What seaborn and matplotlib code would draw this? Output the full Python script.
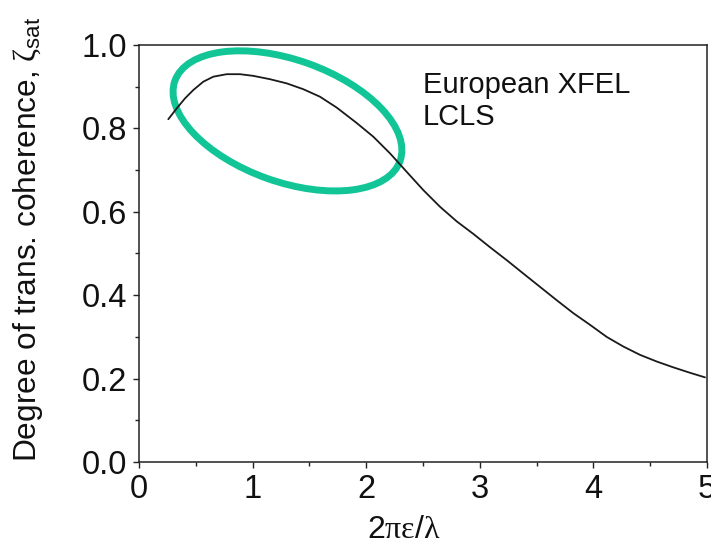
import matplotlib
matplotlib.use("Agg")
import matplotlib.pyplot as plt
import matplotlib.transforms as mtransforms
from matplotlib.patches import Ellipse
from matplotlib.ticker import MultipleLocator, FormatStrFormatter
import seaborn as sns

# Degree of transverse coherence at saturation vs. normalized emittance
emittance = [0.258, 0.332, 0.405, 0.478, 0.566, 0.654, 0.772, 0.889, 1.006, 1.153,
             1.300, 1.446, 1.593, 1.740, 1.916, 2.063, 2.210, 2.356, 2.503, 2.650,
             2.797, 2.943, 3.090, 3.237, 3.383, 3.530, 3.677, 3.823, 3.970, 4.117,
             4.263, 4.410, 4.557, 4.703, 4.850, 4.982]
coherence = [0.822, 0.848, 0.872, 0.892, 0.912, 0.924, 0.930, 0.930, 0.926, 0.918,
             0.908, 0.894, 0.876, 0.850, 0.813, 0.780, 0.740, 0.696, 0.652, 0.612,
             0.577, 0.547, 0.515, 0.484, 0.452, 0.420, 0.388, 0.357, 0.329, 0.300,
             0.277, 0.257, 0.241, 0.227, 0.214, 0.203]

x_ticks = [0, 1, 2, 3, 4, 5]
y_ticks = [0.0, 0.2, 0.4, 0.6, 0.8, 1.0]
facility_labels = ["European XFEL", "LCLS"]

sns.set_style("ticks")
plt.rcParams["font.family"] = ["Liberation Sans", "DejaVu Sans"]
plt.rcParams["mathtext.fontset"] = "custom"
plt.rcParams["mathtext.rm"] = "Liberation Sans"
plt.rcParams["mathtext.it"] = "Liberation Serif"
plt.rcParams["mathtext.sf"] = "Liberation Sans"

fig = plt.figure(figsize=(7.11, 5.46), dpi=100)
ax = fig.add_axes([139 / 711, 1 - 462 / 546, 568 / 711, 417 / 546])

sns.lineplot(x=emittance, y=coherence, ax=ax, color="#1a1a1a", linewidth=1.3)

ax.set_xlim(x_ticks[0], x_ticks[-1])
ax.set_ylim(y_ticks[0], y_ticks[-1])
ax.set_xticks(x_ticks)
ax.set_yticks(y_ticks)
ax.xaxis.set_minor_locator(MultipleLocator(0.5))
ax.yaxis.set_minor_locator(MultipleLocator(0.1))
ax.yaxis.set_major_formatter(FormatStrFormatter("%.1f"))

for side in ["top", "right", "bottom", "left"]:
    ax.spines[side].set_visible(True)
    ax.spines[side].set_linewidth(1.1)
    ax.spines[side].set_color("#222222")

ax.tick_params(which="major", direction="out", length=4.5, width=1.0,
               labelsize=23.5, colors="#222222", labelcolor="#111111", pad=4)
ax.tick_params(which="minor", direction="out", length=3.0, width=1.0, colors="#222222")
ax.tick_params(top=False, right=False, which="both")

ax.set_xlabel(r"2$\pi\varepsilon/\lambda$", fontsize=23, color="#111111")
ax.xaxis.set_label_coords(0.466, -0.128)
ax.set_ylabel(r"Degree of trans. coherence, $\zeta_{\mathrm{sat}}$", fontsize=22.8, color="#111111")
ax.yaxis.set_label_coords(-0.165, 0.535)

ax.text(2.5, 0.937, "\n".join(facility_labels), fontsize=21, color="#111111",
        ha="left", va="top", linespacing=1.15)

# highlight ring around the peak region
ring = Ellipse((0, 0), width=239, height=122, angle=-19.6, fill=False,
               edgecolor="#12C597", linewidth=5.0,
               transform=mtransforms.ScaledTranslation(1.307, 0.818, ax.transData))
ax.add_artist(ring)

fig.savefig("out.png", dpi=100)
